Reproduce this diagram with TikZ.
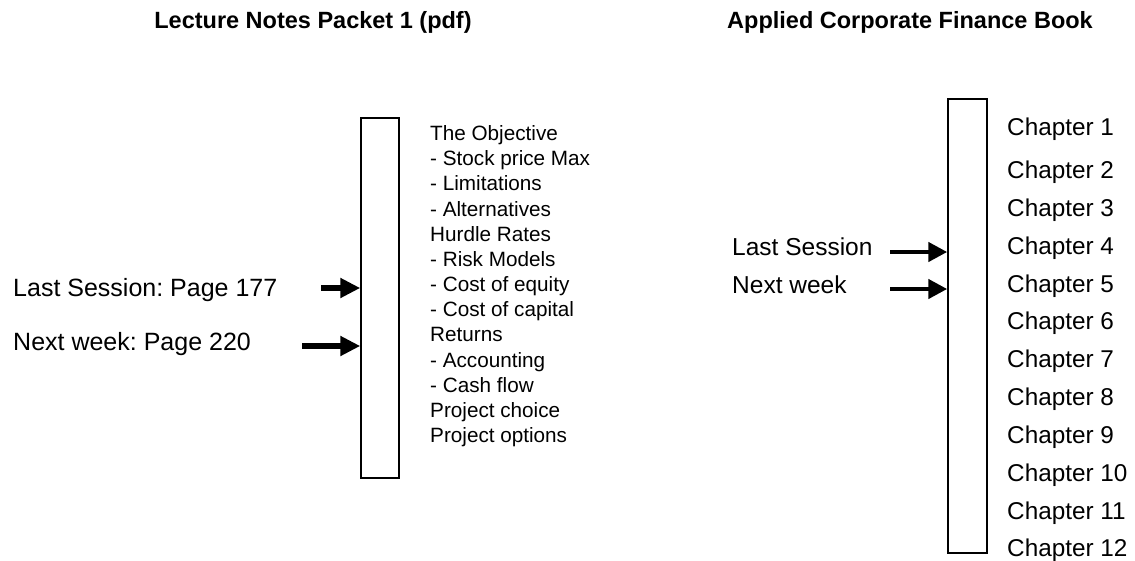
\documentclass[tikz,border=0pt]{standalone}
\usepackage{fontspec}
\setmainfont{Liberation Sans}
\usetikzlibrary{arrows.meta}
\frenchspacing
\tikzset{
  bar/.style={draw=black, line width=1.5pt, fill=white, inner sep=0pt},
  ttl/.style={font=\fontsize{23.5}{28}\selectfont\bfseries, anchor=base, inner sep=0pt},
  lst/.style={font=\fontsize{20.7}{25}\selectfont, anchor=base west, inner sep=0pt},
  chp/.style={font=\fontsize{24.3}{29}\selectfont, anchor=base west, inner sep=0pt},
  lbl/.style={font=\fontsize{25}{30}\selectfont, anchor=base west, inner sep=0pt},
  arrL/.style={line width=5.5pt, -{Triangle[length=20pt,width=19pt]}},
  arrR/.style={line width=4.5pt, -{Triangle[length=19pt,width=19pt]}}
}
\begin{document}
\begin{tikzpicture}[x=1pt,y=-1pt]
\useasboundingbox (0,0) rectangle (1135,560);
% titles
\node[ttl] (t1) at (313,28.5) {Lecture Notes Packet 1 (pdf)};
\node[ttl] (t2) at (910,28.5) {Applied Corporate Finance Book};
% boxes
\node[bar, minimum width=38pt, minimum height=360pt] (lbox) at (380,298) {};
\node[bar, minimum width=39pt, minimum height=454pt] (rbox) at (967.5,326) {};
% left list
\foreach \t [count=\i from 0] in {The Objective,- Stock price Max,- Limitations,- Alternatives,Hurdle Rates,- Risk Models,- Cost of equity,- Cost of capital,Returns,- Accounting,- Cash flow,Project choice,Project options}{
  \node[lst] (l\i) at (430,{133+25.17*\i+7.5}) {\t};
}
% chapters
\foreach \y [count=\i] in {127,170,208,246,284,321,359,397,435,473,511,548}{
  \node[chp] (c\i) at (1007,\y+8.7) {Chapter \i};
}
% left labels
\node[lbl] (ls1) at (13,296.5) {Last Session: Page 177};
\node[lbl] (nw1) at (13,350.5) {Next week: Page 220};
% right labels
\node[lbl, font=\fontsize{24.5}{29}\selectfont] (ls2) at (732,255.5) {Last Session};
\node[lbl, font=\fontsize{24.5}{29}\selectfont] (nw2) at (732,293.5) {Next week};
% arrows
\coordinate (a1) at (321,288);
\coordinate (a2) at (302,346);
\coordinate (a3) at (890,252);
\coordinate (a4) at (890,289);
\draw[arrL] (a1) -- (a1 -| lbox.west);
\draw[arrL] (a2) -- (a2 -| lbox.west);
\draw[arrR] (a3) -- (a3 -| rbox.west);
\draw[arrR] (a4) -- (a4 -| rbox.west);
\end{tikzpicture}
\end{document}
